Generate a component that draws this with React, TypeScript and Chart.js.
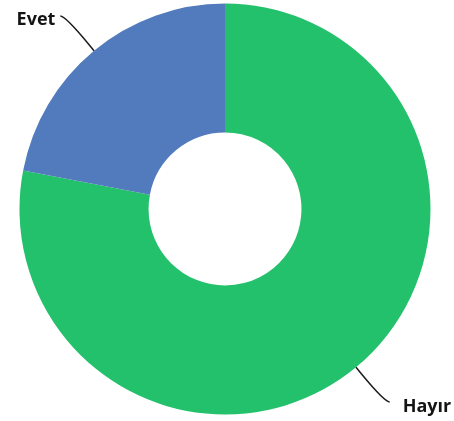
import React, { useEffect, useRef } from "react";
import { Chart, registerables } from "chart.js";

Chart.register(...registerables);

const categories = ["Hayır", "Evet"];
const values = [78, 22];
const colors = ["#23C16B", "#527BBD"];

const labelPlugin = {
  id: "pieLabels",
  afterDatasetsDraw(chart: any) {
    const ctx = chart.ctx;
    const meta = chart.getDatasetMeta(0);
    const dist = 45;
    const crook = 9;
    meta.data.forEach((arc: any, i: number) => {
      const { x, y, startAngle, endAngle, outerRadius } = arc.getProps(
        ["x", "y", "startAngle", "endAngle", "outerRadius"],
        true
      );
      const mid = (startAngle + endAngle) / 2;
      const cx = Math.cos(mid);
      const cy = Math.sin(mid);
      const ex = x + cx * outerRadius;
      const ey = y + cy * outerRadius;
      const bx = x + cx * (outerRadius + crook);
      const by = y + cy * (outerRadius + crook);
      const lx = x + cx * (outerRadius + dist);
      const ly = y + cy * (outerRadius + dist);
      const left = cx < 0;
      const mx = lx + (left ? -5 : 5);
      ctx.save();
      ctx.strokeStyle = "#1a1a1a";
      ctx.lineWidth = 1.5;
      ctx.beginPath();
      ctx.moveTo(mx, ly);
      ctx.bezierCurveTo(lx, ly, 2 * bx - ex, 2 * by - ey, bx, by);
      ctx.lineTo(ex, ey);
      ctx.stroke();
      ctx.fillStyle = "#141414";
      ctx.font = "bold 18px 'Open Sans'";
      ctx.textBaseline = "alphabetic";
      ctx.textAlign = left ? "right" : "left";
      ctx.fillText(categories[i], left ? mx - 5 : mx + 13, ly + 9.5);
      ctx.restore();
    });
  },
};

export default function App() {
  const ref = useRef<HTMLCanvasElement>(null);
  useEffect(() => {
    if (!ref.current) return;
    const chart = new Chart(ref.current, {
      type: "doughnut",
      data: {
        labels: categories,
        datasets: [
          {
            data: values,
            backgroundColor: colors,
            borderWidth: 0,
          },
        ],
      },
      options: {
        animation: false,
        responsive: false,
        cutout: "37.2%",
        radius: 205.5,
        layout: { padding: { left: 0, right: 4, top: 0, bottom: 3 } },
        plugins: {
          legend: { display: false },
          tooltip: { enabled: false },
        },
      },
      plugins: [labelPlugin],
    });
    return () => chart.destroy();
  }, []);
  return (
    <div style={{ position: "absolute", left: 0, top: 0, width: 454, height: 421, background: "#fff" }}>
      <canvas ref={ref} width={454} height={421} style={{ width: 454, height: 421 }} />
    </div>
  );
}
